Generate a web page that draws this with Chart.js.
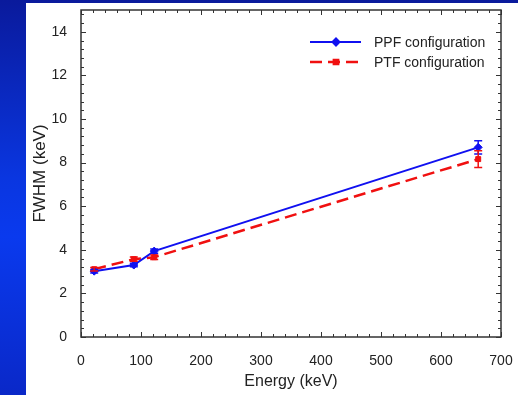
<!DOCTYPE html>
<html>
<head>
<meta charset="utf-8">
<script src="https://cdn.jsdelivr.net/npm/chart.js@4/dist/chart.umd.min.js"></script>
<style>
  html, body { margin: 0; padding: 0; }
  body {
    width: 518px; height: 395px; overflow: hidden; position: relative;
    background: linear-gradient(to bottom, #0a1a9c 0%, #0a36e0 45%, #0a3aee 60%, #0a28c8 100%);
  }
  #panel {
    position: absolute; left: 26px; top: 3px; width: 492px; height: 392px;
    background: #fff;
  }
</style>
</head>
<body>
<div id="panel"><canvas id="myChart" width="492" height="392"></canvas></div>
<script>
// data
var energies = [22, 88, 122, 662];
var ppfFwhm = [3.02, 3.30, 3.94, 8.70];
var ppfErr = [0.08, 0.08, 0.1, 0.3];
var ptfFwhm = [3.11, 3.57, 3.66, 8.16];
var ptfErr = [0.08, 0.1, 0.1, 0.38];
var xTicks = [0, 100, 200, 300, 400, 500, 600, 700];
var yTicks = [0, 2, 4, 6, 8, 10, 12, 14];
var labels = ['PPF configuration', 'PTF configuration'];

Chart.defaults.font.family = "'Liberation Sans', Arial, sans-serif";
Chart.defaults.color = '#222';

function pts(xs, ys) {
    return xs.map(function (x, i) { return { x: x, y: ys[i] }; });
}

// error bars, inward ticks, box frame and legend
var extras = {
    id: 'extras',
    afterDatasetsDraw: function (chart) {
        var ctx = chart.ctx;
        var xs = chart.scales.x, ys = chart.scales.y;
        var a = chart.chartArea;
        ctx.save();

        // error bars
        var errs = [ppfErr, ptfErr];
        chart.data.datasets.forEach(function (ds, di) {
            ctx.strokeStyle = ds.borderColor;
            ctx.lineWidth = 1.5;
            ds.data.forEach(function (p, i) {
                var e = errs[di][i];
                var px = xs.getPixelForValue(p.x);
                var y1 = ys.getPixelForValue(p.y + e);
                var y2 = ys.getPixelForValue(p.y - e);
                ctx.beginPath();
                ctx.moveTo(px, y1); ctx.lineTo(px, y2);
                ctx.moveTo(px - 4, y1); ctx.lineTo(px + 4, y1);
                ctx.moveTo(px - 4, y2); ctx.lineTo(px + 4, y2);
                ctx.stroke();
            });
        });

        // frame
        ctx.strokeStyle = '#333';
        ctx.lineWidth = 1.5;
        ctx.strokeRect(a.left, a.top, a.right - a.left, a.bottom - a.top);

        // ticks
        ctx.lineWidth = 1;
        ctx.beginPath();
        for (var v = 0; v <= 700; v += 20) {
            var px = Math.round(xs.getPixelForValue(v)) + 0.5;
            var len = v % 100 === 0 ? 5 : 3;
            ctx.moveTo(px, a.bottom); ctx.lineTo(px, a.bottom - len);
            ctx.moveTo(px, a.top); ctx.lineTo(px, a.top + len);
        }
        for (var k = 0; k <= 37; k++) {
            var val = k * 0.4;
            var py = Math.round(ys.getPixelForValue(val)) + 0.5;
            var l2 = k % 5 === 0 ? 5 : 3;
            ctx.moveTo(a.left, py); ctx.lineTo(a.left + l2, py);
            ctx.moveTo(a.right, py); ctx.lineTo(a.right - l2, py);
        }
        ctx.stroke();

        // legend
        var lx = 284, ly = [39, 59];
        chart.data.datasets.forEach(function (ds, di) {
            var y = ly[di];
            ctx.strokeStyle = ds.borderColor;
            ctx.lineWidth = ds.borderWidth;
            ctx.setLineDash(ds.borderDash || []);
            ctx.beginPath();
            ctx.moveTo(lx, y); ctx.lineTo(lx + 51, y);
            ctx.stroke();
            ctx.setLineDash([]);
            ctx.fillStyle = ds.borderColor;
            Chart.helpers.drawPoint(ctx, {
                pointStyle: ds.pointStyle, radius: ds.pointRadius - 0.5, borderWidth: 1
            }, lx + 26, y);
            ctx.fillStyle = '#222';
            ctx.font = "14px 'Liberation Sans', Arial, sans-serif";
            ctx.textBaseline = 'middle';
            ctx.fillText(ds.label, lx + 64, y + 1);
        });
        ctx.restore();
    }
};

var chart = new Chart(document.getElementById('myChart').getContext('2d'), {
    type: 'line',
    data: {
        datasets: [{
            label: labels[0],
            data: pts(energies, ppfFwhm),
            borderColor: '#1010f0',
            backgroundColor: '#1010f0',
            borderWidth: 2,
            pointStyle: 'rectRot',
            pointRadius: 4,
            pointBorderWidth: 1
        }, {
            label: labels[1],
            data: pts(energies, ptfFwhm),
            borderColor: '#f01010',
            backgroundColor: '#f01010',
            borderWidth: 2.5,
            borderDash: [12, 6],
            pointStyle: 'rect',
            pointRadius: 3.5,
            pointBorderWidth: 1
        }]
    },
    options: {
        responsive: false,
        animation: false,
        layout: { padding: { left: 0, right: 17, top: 0, bottom: 0 } },
        plugins: { legend: { display: false }, tooltip: { enabled: false } },
        scales: {
            x: {
                type: 'linear', min: 0, max: 700,
                afterBuildTicks: function (s) { s.ticks = xTicks.map(function (v) { return { value: v }; }); },
                afterFit: function (s) { s.height = 58; s.paddingRight = 0; s.paddingLeft = 0; },
                grid: { display: false },
                border: { display: false },
                ticks: { font: { size: 14 }, padding: 8, maxRotation: 0 },
                title: { display: true, text: 'Energy (keV)', font: { size: 16 }, padding: { top: 4 } }
            },
            y: {
                type: 'linear', min: 0, max: 15,
                afterBuildTicks: function (s) { s.ticks = yTicks.map(function (v) { return { value: v }; }); },
                afterFit: function (s) { s.width = 55; s.paddingTop = 7; },
                grid: { display: false },
                border: { display: false },
                ticks: { font: { size: 14 }, padding: 6 },
                title: { display: true, text: 'FWHM (keV)', font: { size: 17 }, padding: { bottom: 6 } }
            }
        }
    },
    plugins: [extras]
});
</script>
</body>
</html>
